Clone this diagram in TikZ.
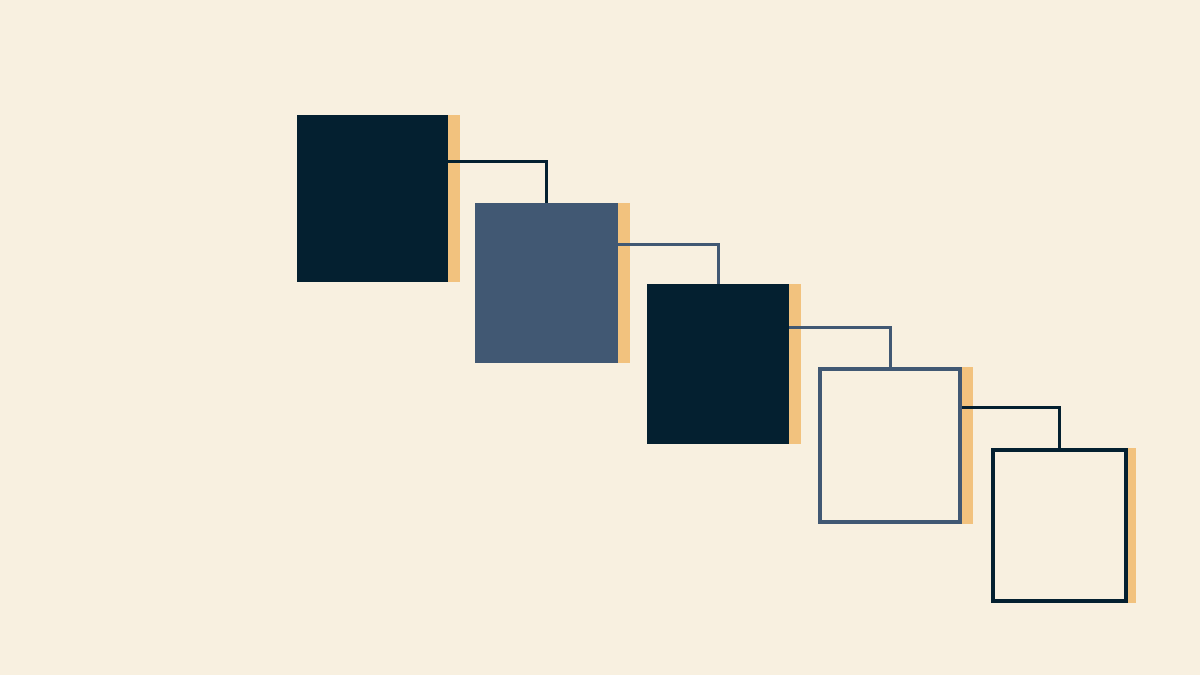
\documentclass[tikz,border=0pt]{standalone}
\definecolor{bg}{RGB}{248,240,224}
\definecolor{navy}{RGB}{4,32,48}
\definecolor{slate}{RGB}{65,88,115}
\definecolor{amber}{RGB}{242,194,126}
\begin{document}
\begin{tikzpicture}[x=1pt,y=-1pt,
  sq/.style={rectangle,inner sep=0pt,outer sep=0pt},
  solidsq/.style={sq,fill=#1,draw=none},
  opensq/.style={sq,draw=#1,line width=4pt,fill=none},
  bar/.style={fill=amber,draw=none},
  conn/.style={draw=#1,line width=3pt}]
\fill[bg] (0,0) rectangle (1200,675);
\useasboundingbox (0,0) rectangle (1200,675);
% accent bars
\path[bar] (448,115) rectangle (460,282);
\path[bar] (618,203) rectangle (630,363);
\path[bar] (789,284) rectangle (801,444);
\path[bar] (962,367) rectangle (973,524);
\path[bar] (1128,448) rectangle (1136,603);
% squares
\node[solidsq=navy,minimum width=151pt,minimum height=167pt] (s1) at (372.5,198.5) {};
\node[solidsq=slate,minimum width=143pt,minimum height=160pt] (s2) at (546.5,283) {};
\node[solidsq=navy,minimum width=142pt,minimum height=160pt] (s3) at (718,364) {};
\node[opensq=slate,minimum width=140pt,minimum height=153pt] (s4) at (890,445.5) {};
\node[opensq=navy,minimum width=133pt,minimum height=151pt] (s5) at (1059.5,525.5) {};
% connectors
\draw[conn=navy] (s1.east |- 0,161) -| (s2.north);
\draw[conn=slate] (s2.east |- 0,244) -| (s3.north);
\draw[conn=slate] (s3.east |- 0,327) -| (s4.north);
\draw[conn=navy] ([xshift=2pt]s4.east |- 0,407) -| (s5.north);
\end{tikzpicture}
\end{document}
